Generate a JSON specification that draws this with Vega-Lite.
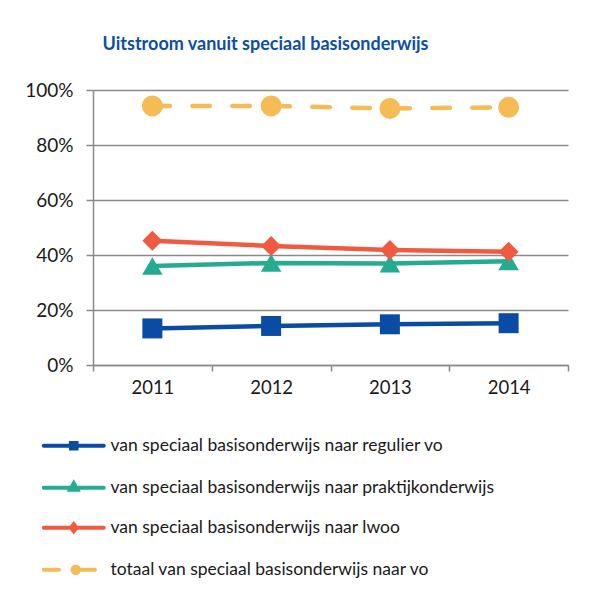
{
  "$schema": "https://vega.github.io/schema/vega-lite/v6.json",
  "autosize": {"type": "none"},
  "padding": {"left": 93, "top": 90, "right": 25, "bottom": 228},
  "width": 475,
  "height": 275,
  "background": "white",
  "title": {
    "text": "Uitstroom vanuit speciaal basisonderwijs",
    "font": "Lato",
    "fontSize": 18,
    "fontWeight": "bold",
    "color": "#0d4fa3",
    "anchor": "middle",
    "dx": -65,
    "offset": 27
  },
  "data": {
    "values": [
      {"jaar": "2011", "reeks": "van speciaal basisonderwijs naar regulier vo", "waarde": 0.133},
      {"jaar": "2012", "reeks": "van speciaal basisonderwijs naar regulier vo", "waarde": 0.142},
      {"jaar": "2013", "reeks": "van speciaal basisonderwijs naar regulier vo", "waarde": 0.148},
      {"jaar": "2014", "reeks": "van speciaal basisonderwijs naar regulier vo", "waarde": 0.152},
      {"jaar": "2011", "reeks": "van speciaal basisonderwijs naar praktijkonderwijs", "waarde": 0.360},
      {"jaar": "2012", "reeks": "van speciaal basisonderwijs naar praktijkonderwijs", "waarde": 0.371},
      {"jaar": "2013", "reeks": "van speciaal basisonderwijs naar praktijkonderwijs", "waarde": 0.369},
      {"jaar": "2014", "reeks": "van speciaal basisonderwijs naar praktijkonderwijs", "waarde": 0.377},
      {"jaar": "2011", "reeks": "van speciaal basisonderwijs naar lwoo", "waarde": 0.452},
      {"jaar": "2012", "reeks": "van speciaal basisonderwijs naar lwoo", "waarde": 0.433},
      {"jaar": "2013", "reeks": "van speciaal basisonderwijs naar lwoo", "waarde": 0.418},
      {"jaar": "2014", "reeks": "van speciaal basisonderwijs naar lwoo", "waarde": 0.412},
      {"jaar": "2011", "reeks": "totaal van speciaal basisonderwijs naar vo", "waarde": 0.942},
      {"jaar": "2012", "reeks": "totaal van speciaal basisonderwijs naar vo", "waarde": 0.942},
      {"jaar": "2013", "reeks": "totaal van speciaal basisonderwijs naar vo", "waarde": 0.933},
      {"jaar": "2014", "reeks": "totaal van speciaal basisonderwijs naar vo", "waarde": 0.937}
    ]
  },
  "encoding": {
    "x": {
      "field": "jaar",
      "type": "ordinal",
      "scale": {"paddingInner": 0, "paddingOuter": 0},
      "axis": {
        "title": null,
        "labelAngle": 0,
        "tickBand": "extent",
        "tickSize": 6,
        "tickColor": "#8a8a8a",
        "tickWidth": 1.5,
        "domainColor": "#8a8a8a",
        "domainWidth": 1.5,
        "labelFont": "Lato",
        "labelFontSize": 18.5,
        "labelColor": "#1a1a1a",
        "labelPadding": 7,
        "grid": false
      }
    },
    "y": {
      "field": "waarde",
      "type": "quantitative",
      "scale": {"domain": [0, 1]},
      "axis": {
        "title": null,
        "format": "~%",
        "values": [0, 0.2, 0.4, 0.6, 0.8, 1],
        "tickSize": 7,
        "tickColor": "#8a8a8a",
        "tickWidth": 1.5,
        "domainColor": "#8a8a8a",
        "domainWidth": 1.5,
        "gridColor": "#8a8a8a",
        "gridWidth": 1.5,
        "labelFont": "Lato",
        "labelFontSize": 19,
        "labelColor": "#1a1a1a",
        "labelPadding": 13
      }
    },
    "color": {
      "field": "reeks",
      "type": "nominal",
      "scale": {
        "domain": [
          "van speciaal basisonderwijs naar regulier vo",
          "van speciaal basisonderwijs naar praktijkonderwijs",
          "van speciaal basisonderwijs naar lwoo",
          "totaal van speciaal basisonderwijs naar vo"
        ],
        "range": ["#0a4ca3", "#24ab90", "#ef5a40", "#f5bb55"]
      },
      "legend": {
        "orient": "none",
        "legendX": -28,
        "legendY": 347,
        "title": null,
        "padding": 0,
        "symbolSize": 64,
        "symbolType": "circle",
        "labelOffset": 28,
        "labelLimit": 0,
        "rowPadding": 18,
        "labelFont": "Lato",
        "labelFontSize": 17.5,
        "labelColor": "#1a1a1a",
        "encode": {
          "symbols": {
            "update": {
              "shape": {"signal": "datum.value == 'van speciaal basisonderwijs naar regulier vo' ? 'M-7.5,0H7.5M-0.7,-0.7H0.7V0.7H-0.7Z' : datum.value == 'van speciaal basisonderwijs naar praktijkonderwijs' ? 'M-7.5,0H7.5M0,-1.1L0.9,0.5H-0.9Z' : datum.value == 'van speciaal basisonderwijs naar lwoo' ? 'M-7.5,0H7.5M0,-0.9L0.7,0L0,0.9L-0.7,0Z' : 'M-7.5,0H-3.7M0.5,0H5.3M1.3,0A0.8,0.8 0 1,1 -0.3,0A0.8,0.8 0 1,1 1.3,0Z'"},
              "fill": {"signal": "scale('color', datum.value)"},
              "stroke": {"signal": "scale('color', datum.value)"},
              "strokeWidth": {"value": 4},
              "strokeCap": {"value": "round"},
              "strokeDash": {"value": []},
              "opacity": {"value": 1}
            }
          }
        }
      }
    }
  },
  "layer": [
    {
      "transform": [{"filter": "datum.reeks != 'totaal van speciaal basisonderwijs naar vo'"}],
      "mark": {"type": "line", "strokeWidth": 4.5}
    },
    {
      "transform": [{"filter": "datum.reeks == 'totaal van speciaal basisonderwijs naar vo'"}],
      "mark": {"type": "line", "strokeWidth": 4.5, "strokeDash": [17.5, 22.5], "strokeCap": "round"}
    },
    {
      "transform": [{"filter": "datum.reeks == 'van speciaal basisonderwijs naar regulier vo'"}],
      "mark": {"type": "point", "filled": true, "opacity": 1, "shape": "square", "size": 400}
    },
    {
      "transform": [{"filter": "datum.reeks == 'van speciaal basisonderwijs naar praktijkonderwijs'"}],
      "mark": {"type": "point", "filled": true, "opacity": 1, "shape": "triangle-up", "size": 420}
    },
    {
      "transform": [{"filter": "datum.reeks == 'van speciaal basisonderwijs naar lwoo'"}],
      "mark": {"type": "point", "filled": true, "opacity": 1, "shape": "diamond", "size": 400}
    },
    {
      "transform": [{"filter": "datum.reeks == 'totaal van speciaal basisonderwijs naar vo'"}],
      "mark": {"type": "point", "filled": true, "opacity": 1, "shape": "circle", "size": 441}
    }
  ],
  "config": {
    "view": {"stroke": null}
  }
}
